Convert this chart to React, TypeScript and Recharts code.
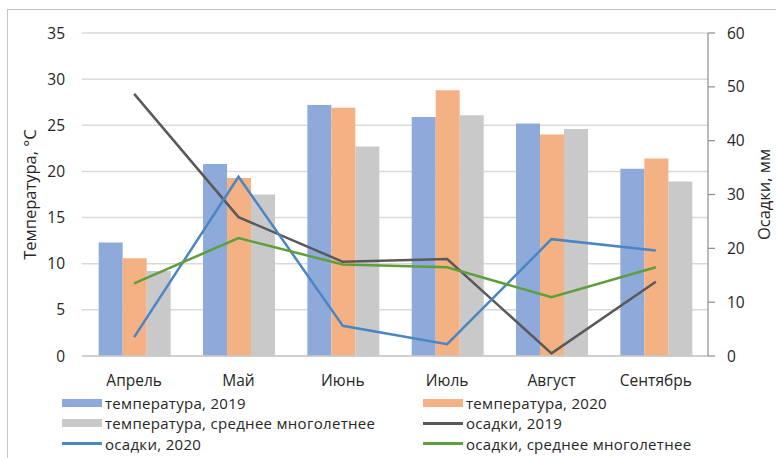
import React from "react";
import {
  ComposedChart,
  Bar,
  Line,
  XAxis,
  YAxis,
  CartesianGrid,
  Legend,
} from "recharts";

const months = ["Апрель", "Май", "Июнь", "Июль", "Август", "Сентябрь"];

const temp2019 = [12.3, 20.8, 27.2, 25.9, 25.2, 20.3];
const temp2020 = [10.6, 19.3, 26.9, 28.8, 24.0, 21.4];
const tempAvg = [9.2, 17.5, 22.7, 26.1, 24.6, 18.9];

const prec2019 = [48.7, 25.8, 17.5, 18.0, 0.5, 13.8];
const prec2020 = [3.5, 33.3, 5.6, 2.2, 21.7, 19.6];
const precAvg = [13.5, 21.9, 17.0, 16.5, 10.9, 16.5];

const tempTicks = [0, 5, 10, 15, 20, 25, 30, 35];
const precTicks = [0, 10, 20, 30, 40, 50, 60];

// legend order as in the original (row by row, two columns)
const legendOrder = [
  "температура, 2019",
  "температура, 2020",
  "температура, среднее многолетнее",
  "осадки, 2019",
  "осадки, 2020",
  "осадки, среднее многолетнее",
];

const data = months.map((m, i) => ({
  month: m,
  t2019: temp2019[i],
  t2020: temp2020[i],
  tAvg: tempAvg[i],
  p2019: prec2019[i],
  p2020: prec2020[i],
  pAvg: precAvg[i],
}));

const FONT = "'Open Sans', 'Noto Sans', sans-serif";
const TEXT = "#262626";

const renderLegend = (props: any) => {
  const payload = [...props.payload].sort(
    (a: any, b: any) => legendOrder.indexOf(a.value) - legendOrder.indexOf(b.value)
  );
  return (
    <div
      style={{
        display: "grid",
        gridTemplateColumns: "361px 300px",
        fontFamily: FONT,
        fontSize: 15,
        lineHeight: "20px",
        color: TEXT,
      }}
    >
      {payload.map((entry: any) => (
        <div
          key={entry.value}
          style={{ display: "flex", alignItems: "center", height: 20.6 }}
        >
          <span
            style={{
              display: "inline-block",
              width: 40,
              height: entry.type === "line" ? 3 : 8,
              background: entry.color,
              marginRight: 3,
            }}
          />
          <span style={{ whiteSpace: "nowrap", letterSpacing: 0.3 }}>
            {entry.value}
          </span>
        </div>
      ))}
    </div>
  );
};

const App: React.FC = () => {
  return (
    <div
      style={{
        position: "absolute",
        left: 0,
        top: 0,
        width: 776,
        height: 458,
        overflow: "hidden",
        background: "#fff",
      }}
    >
      <div
        style={{
          position: "absolute",
          left: 7,
          top: 9,
          width: 820,
          height: 520,
          border: "1.5px solid #c6c6c6",
        }}
      />
      <div style={{ position: "absolute", left: 0, top: 0 }}>
        <ComposedChart
          width={776}
          height={458}
          data={data}
          margin={{ top: 33, right: 0, bottom: 72, left: 0 }}
          barCategoryGap="16%"
          barGap={0}
        >
          <CartesianGrid
            yAxisId="left"
            vertical={false}
            stroke="#d9d9d9"
            strokeWidth={1.5}
          />
          <XAxis
            dataKey="month"
            height={30}
            tickLine={false}
            axisLine={{ stroke: "#c8c8c8", strokeWidth: 1.5 }}
            tickMargin={13}
            tick={{ fill: TEXT, fontSize: 15.5, fontFamily: FONT }}
          />
          <YAxis
            yAxisId="left"
            width={82}
            domain={[0, 35]}
            ticks={tempTicks}
            interval={0}
            axisLine={false}
            tickLine={false}
            tickMargin={11}
            tick={{ fill: TEXT, fontSize: 15.5, fontFamily: FONT }}
            label={{
              value: "Температура, °C",
              angle: -90,
              position: "center",
              dx: -11,
              fill: TEXT,
              fontSize: 16.5,
              fontFamily: FONT,
            }}
          />
          <YAxis
            yAxisId="right"
            orientation="right"
            width={68}
            domain={[0, 60]}
            ticks={precTicks}
            interval={0}
            axisLine={{ stroke: "#8c8c8c", strokeWidth: 1.2 }}
            tickLine={{ stroke: "#8c8c8c", strokeWidth: 1.2 }}
            tickSize={7}
            tickMargin={12}
            tick={{ fill: TEXT, fontSize: 15.5, fontFamily: FONT }}
            label={{
              value: "Осадки, мм",
              angle: -90,
              position: "center",
              dx: 22,
              fill: TEXT,
              fontSize: 16.5,
              fontFamily: FONT,
            }}
          />
          <Bar
            yAxisId="left"
            dataKey="t2019"
            name="температура, 2019"
            fill="#8eaadb"
            isAnimationActive={false}
          />
          <Bar
            yAxisId="left"
            dataKey="t2020"
            name="температура, 2020"
            fill="#f4b183"
            isAnimationActive={false}
          />
          <Bar
            yAxisId="left"
            dataKey="tAvg"
            name="температура, среднее многолетнее"
            fill="#c9c9c9"
            isAnimationActive={false}
          />
          <Line
            yAxisId="right"
            type="linear"
            dataKey="p2019"
            name="осадки, 2019"
            stroke="#595959"
            strokeWidth={2.5}
            dot={false}
            legendType="line"
            isAnimationActive={false}
          />
          <Line
            yAxisId="right"
            type="linear"
            dataKey="p2020"
            name="осадки, 2020"
            stroke="#4a86c4"
            strokeWidth={2.5}
            dot={false}
            legendType="line"
            isAnimationActive={false}
          />
          <Line
            yAxisId="right"
            type="linear"
            dataKey="pAvg"
            name="осадки, среднее многолетнее"
            stroke="#5e9e3c"
            strokeWidth={2.5}
            dot={false}
            legendType="line"
            isAnimationActive={false}
          />
          <Legend
            layout="horizontal"
            verticalAlign="middle"
            align="center"
            content={renderLegend}
            wrapperStyle={{ left: 62, top: 392.5, width: 700, height: 64 }}
          />
        </ComposedChart>
      </div>
    </div>
  );
};

export default App;
